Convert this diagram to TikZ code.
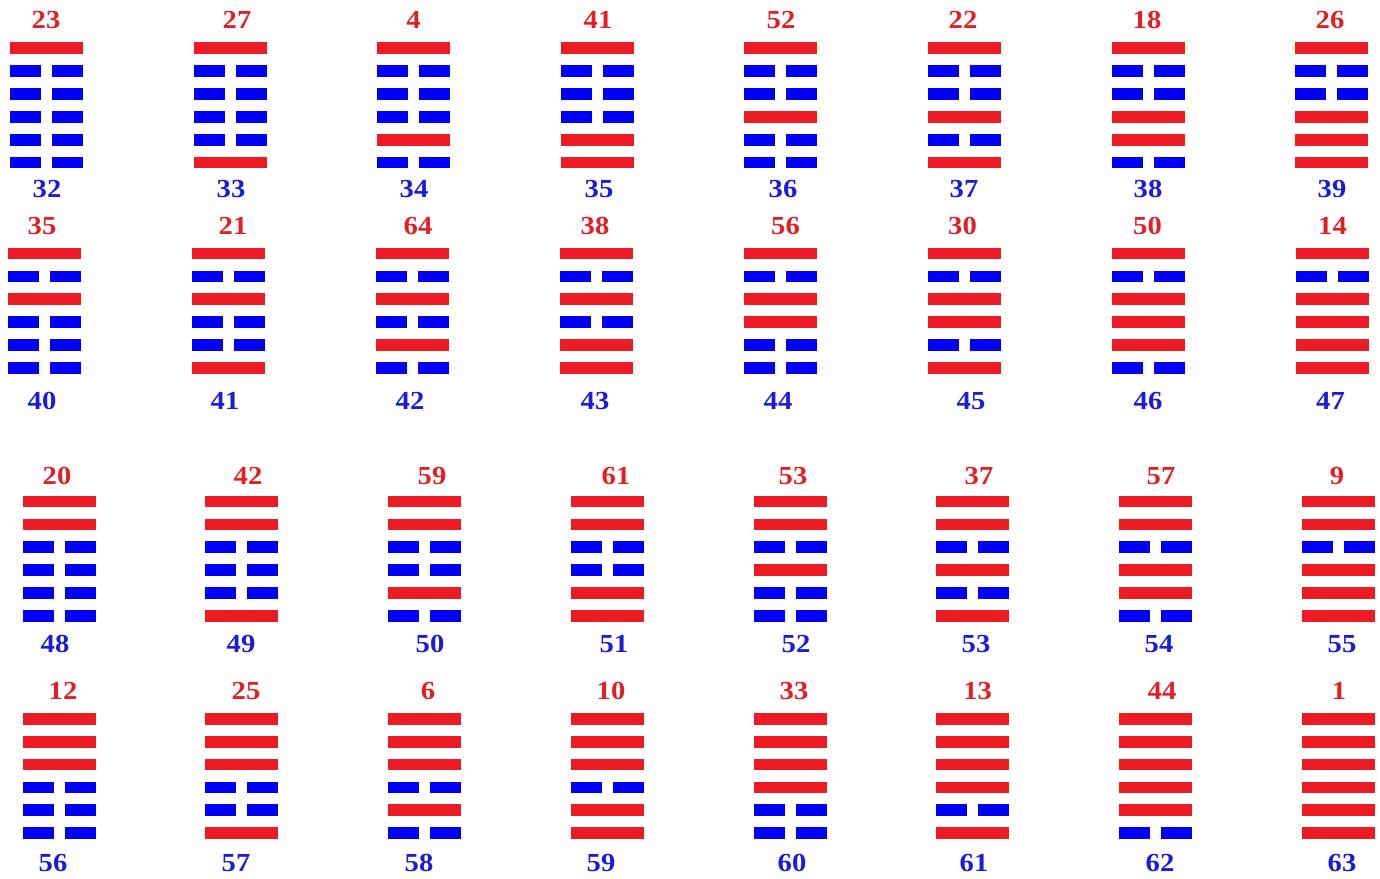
\documentclass[tikz,border=0pt]{standalone}
\usepackage{fontspec}
\setmainfont{Liberation Serif}
\newfontfamily\numfont{Liberation Serif}[FakeStretch=1.1]
\definecolor{yangred}{RGB}{237,28,36}
\definecolor{yinblue}{RGB}{0,0,250}
\definecolor{numred}{RGB}{225,32,38}
\definecolor{numblue}{RGB}{28,28,215}
\newcommand\hexagramdraw[3]{%
  \foreach \i in {0,...,5}{%
    \pgfmathtruncatemacro\bit{mod(floor(#3/2^(5-\i)),2)}%
    \pgfmathsetmacro\yc{#2+22.9*\i-5.9}%
    \ifnum\bit=1
      \fill[yang] (#1,\yc) rectangle ++(73,11.8);
    \else
      \fill[yin] (#1,\yc) rectangle ++(31,11.8);
      \fill[yin] (#1+42,\yc) rectangle ++(31,11.8);
    \fi
  }}
\begin{document}
\begin{tikzpicture}[x=1pt,y=-1pt,
  yang/.style={fill=yangred},
  yin/.style={fill=yinblue},
  lab/.style={inner sep=0pt, anchor=center, text height=17.6pt, text depth=0pt, font=\numfont\bfseries\fontsize{26}{27}\selectfont},
  toplab/.style={lab, text=numred},
  botlab/.style={lab, text=numblue}]
\useasboundingbox[fill=white] (0,0) rectangle (1380,878);
% row 1
\foreach \c/\t/\tx/\bx in {0/23/46/47, 1/27/237/231, 2/4/413.5/414, 3/41/598/599, 4/52/781/783, 5/22/963/964, 6/18/1147/1148, 7/26/1330/1332}{
  \pgfmathsetmacro\xl{10+183.6*\c}
  \pgfmathtruncatemacro\n{32+\c}
  \hexagramdraw{\xl}{48}{\n}
  \node[toplab] (t\n) at (\tx,20) {\t};
  \node[botlab] (b\n) at (\bx,189) {\n};
}
% row 2
\foreach \c/\t/\tx/\bx in {0/35/42/42, 1/21/233/225, 2/64/418/410, 3/38/595/595, 4/56/785.5/778, 5/30/962.5/971, 6/50/1147.5/1148, 7/14/1332.5/1330.5}{
  \pgfmathsetmacro\xl{8+184*\c}
  \pgfmathtruncatemacro\n{40+\c}
  \hexagramdraw{\xl}{253.5}{\n}
  \node[toplab] (t\n) at (\tx,226) {\t};
  \node[botlab] (b\n) at (\bx,400.5) {\n};
}
% row 3
\foreach \c/\t/\tx/\bx in {0/20/57/55, 1/42/248/241, 2/59/432/430, 3/61/616/614, 4/53/793/796, 5/37/979/976, 6/57/1161/1159, 7/9/1337/1342}{
  \pgfmathsetmacro\xl{22.7+182.7*\c}
  \pgfmathtruncatemacro\n{48+\c}
  \hexagramdraw{\xl}{501.5}{\n}
  \node[toplab] (t\n) at (\tx,476) {\t};
  \node[botlab] (b\n) at (\bx,643.5) {\n};
}
% row 4
\foreach \c/\t/\tx/\bx in {0/12/63/53, 1/25/246/236, 2/6/428/419, 3/10/611/601, 4/33/794/792, 5/13/977.6/974, 6/44/1162/1160, 7/1/1339/1342}{
  \pgfmathsetmacro\xl{22.7+182.7*\c}
  \pgfmathtruncatemacro\n{56+\c}
  \hexagramdraw{\xl}{718.7}{\n}
  \node[toplab] (t\n) at (\tx,691) {\t};
  \node[botlab] (b\n) at (\bx,863) {\n};
}
\end{tikzpicture}
\end{document}
